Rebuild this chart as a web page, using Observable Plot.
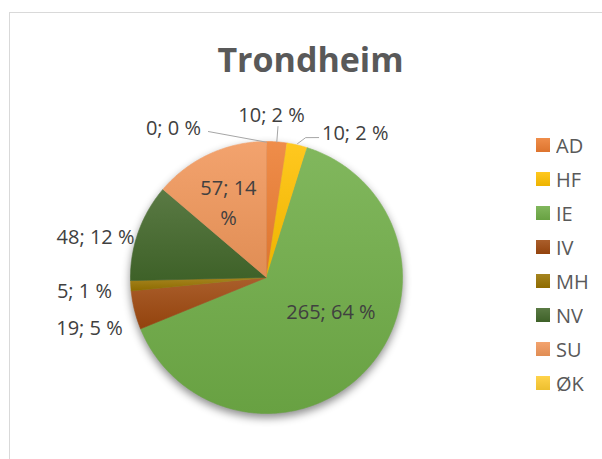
<!DOCTYPE html>
<html>
<head>
<meta charset="utf-8">
<script src="https://cdn.jsdelivr.net/npm/d3@7"></script>
<script src="https://cdn.jsdelivr.net/npm/@observablehq/plot@0.6"></script>
<style>
  html, body { margin: 0; padding: 0; background: #fff; overflow: hidden; width: 602px; height: 459px; }
  #wrap { position: relative; width: 602px; height: 459px; overflow: hidden; background: #fff; }
  #frame { position: absolute; left: 9px; top: 12px; width: 700px; height: 600px; border: 1.5px solid #d9d9d9; box-sizing: border-box; pointer-events: none; }
  #title { position: absolute; left: 0; top: 41.5px; width: 621px; text-align: center; font-family: "Open Sans", sans-serif; font-weight: 700; font-size: 34px; line-height: 34px; color: #595959; }
  #chart { position: absolute; left: 0; top: 0; }
  #legend { position: absolute; left: 536px; top: 128px; width: 70px; }
  #legend .lg-swatches { margin: 0; font-family: "Open Sans", sans-serif; font-size: 20px; color: #595959; }
  #legend .lg-swatch { height: 34px; padding: 0; display: flex; align-items: center; }
  #legend .lg-swatch > svg { margin-right: 6px; }
</style>
</head>
<body>
<div id="wrap">
  <div id="chart"></div>
  <div id="title">Trondheim</div>
  <div id="legend"></div>
  <div id="frame"></div>
</div>
<script>
// ---- data ----
const categories = ["AD", "HF", "IE", "IV", "MH", "NV", "SU", "ØK"];
const values = [10, 10, 265, 19, 5, 48, 57, 0];
const baseColors = ["#ED7D31", "#FFC000", "#70AD47", "#9E480E", "#997300", "#43682B", "#F1975A", "#FFCD33"];

// ---- layout (label placement relative to each slice: radius in pie radii, angular shift in degrees) ----
const labelLayout = {
  "AD": {r: 1.214, da: -2.6},
  "HF": {r: 1.265, da: 18},
  "IE": {r: 0.529, da: -16.2},
  "IV": {r: 1.349, da: -1.3},
  "MH": {r: 1.341, da: 0},
  "NV": {r: 1.296, da: -5.5},
  "SU": {r: 0.632, da: -1.5, wrap: true},
  "ØK": {r: 1.31, da: -31.5}
};
const leaderLayout = {
  "AD": [[1.0, 0], [1.113, 0]],
  "HF": [[1.01, 0], [1.068, 2.6], [1.098, 7.4]],
  "ØK": [[0.995, 0], [1.155, -21.7]]
};

// ---- gradient defs (Excel-like shading) ----
const defsSvg = d3.select("body").append("svg")
  .attr("width", 0).attr("height", 0)
  .style("position", "absolute").style("left", "0").style("top", "0");
const defs = defsSvg.append("defs");
baseColors.forEach((c, i) => {
  const g = defs.append("linearGradient").attr("id", "g" + i)
    .attr("x1", 0).attr("y1", 0).attr("x2", 0).attr("y2", 1);
  g.append("stop").attr("offset", "0%").attr("stop-color", d3.interpolateRgb(c, "#ffffff")(0.12));
  g.append("stop").attr("offset", "100%").attr("stop-color", d3.color(c).darker(0.2).formatHex());
});
const fills = categories.map((c, i) => `url(#g${i})`);

// ---- geometry derived from data ----
const total = d3.sum(values);
const arcs = d3.pie().sort(null).value((d, i) => values[i]).startAngle(0).endAngle(2 * Math.PI)(categories);
const polar = (r, a) => ({x: r * Math.sin(a), y: r * Math.cos(a)});

const slicePts = [];
arcs.forEach(a => {
  if (a.value <= 0) return;
  const n = Math.max(2, Math.ceil((a.endAngle - a.startAngle) / (Math.PI / 360)));
  slicePts.push({key: a.data, x: 0, y: 0});
  for (let k = 0; k <= n; k++) {
    const t = a.startAngle + (a.endAngle - a.startAngle) * k / n;
    slicePts.push({key: a.data, ...polar(1, t)});
  }
});

const labels = arcs.map(a => {
  const L = labelLayout[a.data];
  const mid = (a.startAngle + a.endAngle) / 2 + L.da * Math.PI / 180;
  const pct = Math.round(a.value / total * 100);
  const text = L.wrap ? `${a.value}; ${pct}\n%` : `${a.value}; ${pct} %`;
  return {key: a.data, text, ...polar(L.r, mid)};
});

const leaders = [];
arcs.forEach(a => {
  const pts = leaderLayout[a.data];
  if (!pts) return;
  const mid = (a.startAngle + a.endAngle) / 2;
  pts.forEach(([r, da]) => leaders.push({key: a.data, ...polar(r, mid + da * Math.PI / 180)}));
});

// ---- chart ----
const chart = Plot.plot({
  width: 602,
  height: 459,
  margin: 0,
  x: {domain: [-1, 1], range: [130, 402], axis: null},
  y: {domain: [-1, 1], range: [413, 141], axis: null},
  color: {type: "ordinal", domain: categories, range: fills},
  style: {background: "transparent"},
  marks: [
    Plot.line(slicePts, {x: "x", y: "y", z: "key", fill: "key", stroke: "key", strokeWidth: 0.6, curve: "linear"}),
    Plot.line(leaders, {x: "x", y: "y", z: "key", stroke: "#a6a6a6", strokeWidth: 1}),
    Plot.text(labels, {x: "x", y: "y", text: "text", fontSize: 20, fontFamily: "Open Sans", fill: "#404040",
      textAnchor: "middle", lineAnchor: "middle", lineHeight: 1.475})
  ]
});
document.getElementById("chart").appendChild(chart);
const pieGroup = chart.querySelector('g[aria-label="line"]');
if (pieGroup) pieGroup.style.filter = "drop-shadow(0px 4px 4px rgba(0,0,0,0.45))";

const legend = Plot.legend({
  color: {type: "ordinal", domain: categories, range: fills},
  legend: "swatches",
  columns: 1,
  swatchSize: 14,
  className: "lg"
});
document.getElementById("legend").appendChild(legend);
</script>
</body>
</html>
